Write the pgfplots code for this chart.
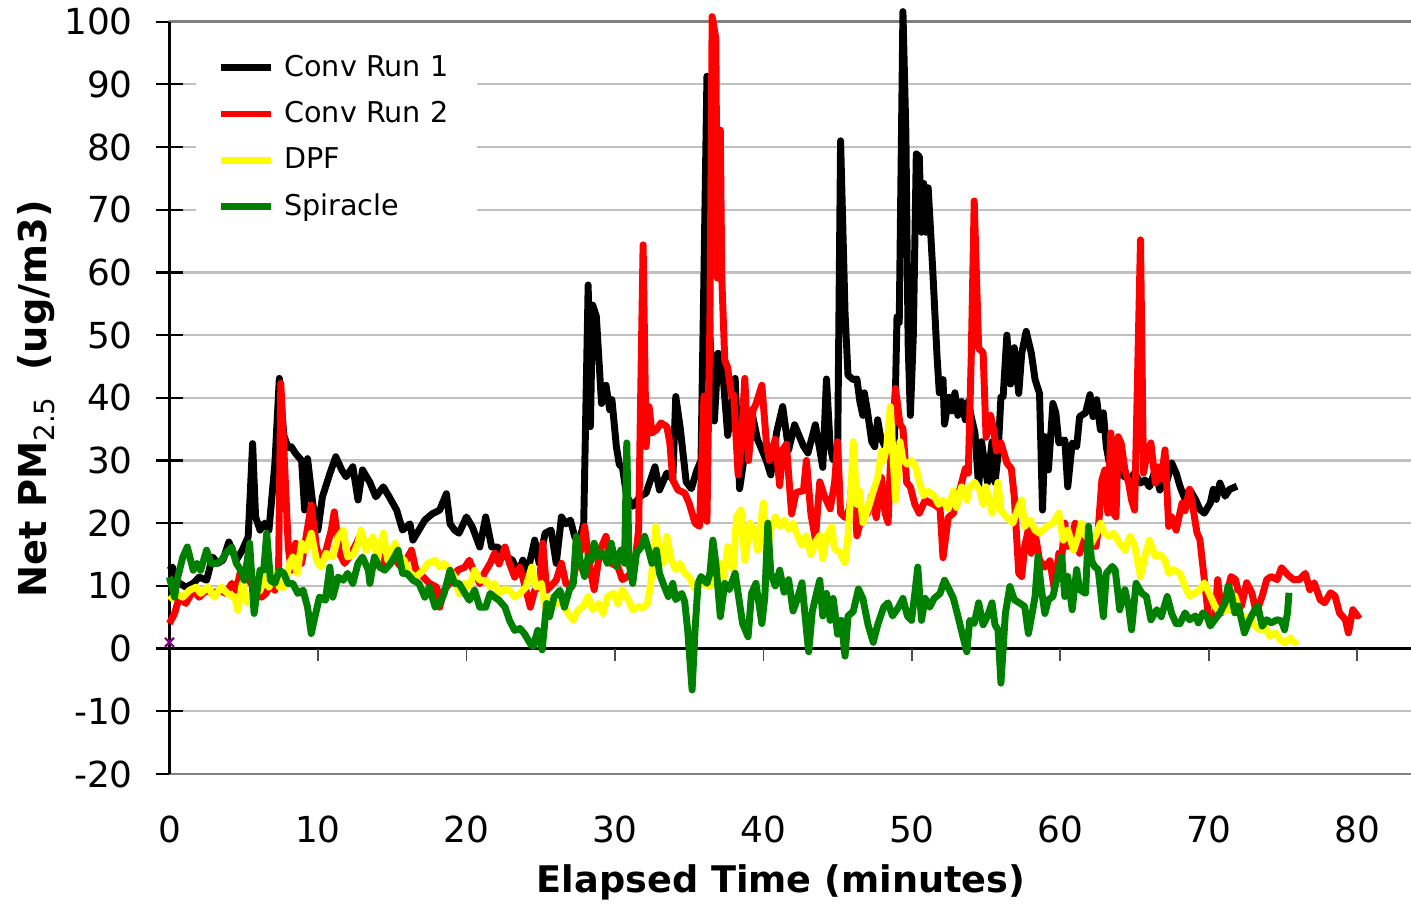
\documentclass[border=0pt]{standalone}
\usepackage{fontspec}
\setmainfont{DejaVu Sans}
\usepackage{pgfplots}
\usepackage{pgfplotstable}
\pgfplotsset{compat=1.18}

\definecolor{cred}{RGB}{255,0,0}
\definecolor{cyellow}{RGB}{255,255,0}
\definecolor{cgreen}{RGB}{0,128,0}
\definecolor{cpurple}{RGB}{128,0,128}
\definecolor{cgrid}{RGB}{192,192,192}
\definecolor{cborder}{RGB}{128,128,128}

% Conv Run 1
\pgfplotstableread{
t v
0.0 12.5
0.2 13
0.5 10.5
0.7 10.4
1.1 9.8
1.6 10.4
2.0 11.4
2.5 10.9
2.9 14.6
3.25 13.6
3.6 14.1
4.0 17
4.5 14.1
4.9 15.7
5.3 17.8
5.6 32.7
5.8 21
6.1 18.9
6.4 20
6.7 18.9
7.1 29.5
7.4 43.1
7.7 34
8.0 32
8.2 32.2
8.5 31.1
8.9 30
9.1 22.1
9.3 30.3
9.65 23.1
10.0 18.9
10.3 24.2
10.8 27.9
11.2 30.6
11.6 28.5
11.9 27.4
12.35 29
12.7 23.7
13.0 28.5
13.5 26.5
13.9 24.2
14.4 25.8
14.8 24.2
15.3 22.1
15.7 18.9
16.2 19.9
16.4 17.3
16.8 18.9
17.2 20.5
17.7 21.5
18.2 22.1
18.65 24.7
18.9 19.9
19.2 18.9
19.5 18.4
20.0 21
20.4 19.4
20.9 16.2
21.3 21
21.7 16.2
22.1 16.2
22.7 14.6
23.1 14.1
23.5 12
23.8 14.1
24.1 12
24.6 17.3
24.9 13.6
25.3 18.4
25.7 18.9
26.05 13.6
26.4 21
26.7 19.9
27.0 20.5
27.3 17.8
27.6 17
27.9 20
28.2 58
28.35 35.4
28.5 54.8
28.75 53
29.1 39.1
29.4 42
29.65 38.1
29.8 39.7
30.1 32.2
30.3 29.3
30.5 29
30.8 24.3
31.2 22.7
31.7 24.3
32.1 24.8
32.7 29
33.0 25.3
33.5 28
33.9 27
34.1 40.2
34.4 35.2
34.8 26.6
35.15 25.5
35.5 28.3
35.8 30
36.0 60
36.2 91.3
36.4 50
36.7 36.3
36.95 47.1
37.3 43.1
37.6 34
38.1 43.1
38.4 25.5
38.75 31.2
39.2 38
39.6 33.4
40.2 30
40.5 27.7
40.9 34.6
41.3 38.6
41.7 31.7
42.1 35.7
42.7 32.3
43.0 31.2
43.5 35.7
43.8 31.7
44.0 28.9
44.25 43
44.5 32.2
44.7 30.1
45.0 30.5
45.2 81
45.5 53.6
45.7 43.6
46.05 42.9
46.3 43
46.5 39.4
46.7 37.2
46.8 40.8
47.0 38
47.3 33
47.5 32.2
47.7 36.5
47.9 33.7
48.2 32.2
48.4 32
48.6 33.7
48.8 30.1
49.0 52.9
49.15 52
49.4 101.6
49.6 82
49.75 48.6
49.9 37.2
50.1 50
50.3 78.9
50.5 78.5
50.65 66.4
50.8 74.2
50.95 66.4
51.1 73.5
51.4 60.7
51.7 46.5
51.85 40.8
52.1 42.9
52.2 35.8
52.5 40.1
52.7 37.9
52.9 40.8
53.1 37.2
53.35 39.4
53.6 36.5
53.8 39.4
54.0 37
54.25 34.4
54.5 25.8
54.7 33
54.9 29.4
55.1 26.5
55.4 33
55.6 26.5
55.8 30.8
56.0 40.1
56.15 40.2
56.4 50
56.65 42.2
56.9 48
57.2 40.7
57.4 47.1
57.7 50.6
58.05 47.1
58.3 42.9
58.6 40.7
58.8 22.1
58.96 33.8
59.2 28.5
59.5 39.1
59.7 37.6
59.9 32.8
60.3 33.3
60.5 25.8
60.8 32.8
61.1 32.2
61.3 37
61.7 37.6
62.0 40.5
62.2 37
62.45 39.7
62.7 34.9
62.9 37.6
63.1 32.2
63.3 29.6
63.6 29
64.0 28
64.35 27.4
64.7 27
65.0 28
65.4 26.4
65.7 26.9
66.0 25.8
66.4 28.5
66.7 25.3
67.2 26.9
67.5 29.6
67.8 28
68.06 25.9
68.4 23.8
68.7 25.4
69.1 23.8
69.4 22.2
69.7 21.6
70.1 23.2
70.3 25.4
70.5 23.8
70.75 26.4
71.1 24.3
71.4 25.4
71.9 25.9
}\convone

% Conv Run 2
\pgfplotstableread{
t v
0.0 4
0.34 5.6
0.67 8.2
1.1 7.2
1.6 9.3
2.0 8.2
2.5 9.3
2.9 8.8
3.4 9.3
3.8 8.8
4.2 10.4
4.5 9.3
4.8 12.5
5.2 11.4
5.5 10.4
5.8 9.3
6.2 8.2
6.5 8.8
6.85 10.4
7.1 9.3
7.35 13
7.5 42.3
7.75 29.5
8.0 16.2
8.2 12.5
8.5 16.8
8.9 13.6
9.2 17.8
9.55 22.9
9.9 16.2
10.2 13.6
10.55 15.7
10.9 18.9
11.1 21.8
11.45 15.2
11.8 13.6
12.1 14.6
12.6 16.8
12.9 18.4
13.25 16.2
13.7 16.8
13.9 16.2
14.5 13.6
15.05 14.6
15.6 13
15.95 14.1
16.3 15.7
16.6 12.5
17.1 11.4
17.5 10.4
18.0 9.8
18.2 6.6
18.5 9.3
19.0 10.9
19.4 12.5
19.9 13
20.2 14.1
20.55 12
20.9 10.4
21.2 12
21.6 13.6
21.9 15.2
22.2 13.5
22.6 16.2
22.9 13.6
23.25 11.4
23.6 13
23.9 10.4
24.3 6.6
24.6 9.3
24.9 10
25.15 16.8
25.4 9.3
25.7 10
26.05 10.9
26.4 13.6
26.7 10.4
27.1 9.8
27.4 13.6
27.7 15.7
27.96 19.5
28.3 13.1
28.6 9.4
29.0 15.7
29.4 17.9
29.75 13.6
30.2 13.1
30.5 11
30.85 11.5
31.3 12.6
31.6 19
31.7 34.9
31.9 64.4
32.1 32.2
32.3 38.6
32.5 34.4
32.8 34.9
33.1 36
33.5 35.4
33.7 32.8
33.9 26.9
34.25 25.3
34.7 24.8
35.0 23.2
35.4 20
35.7 19.5
36.0 40.3
36.2 20.3
36.4 52.3
36.55 100.8
36.8 97.3
36.9 59.1
37.1 82.7
37.2 59.1
37.4 46
37.6 44.8
37.85 40.3
38.0 40.5
38.3 27.7
38.5 32.3
38.75 43.1
39.0 30
39.3 38
39.5 39
39.9 42
40.2 32.9
40.4 30
40.8 33.4
41.1 26
41.3 31.7
41.55 32.6
41.9 21.5
42.2 24.9
42.7 25.2
42.9 30
43.2 21.5
43.5 17.5
43.8 26.6
44.1 24.4
44.5 22.3
44.8 26.5
45.0 33
45.2 21.6
45.5 20.9
45.8 22.3
46.05 28.7
46.3 18
46.6 20.9
47.0 21.5
47.3 24.4
47.6 20.9
47.95 27.3
48.2 21.6
48.4 20.1
48.6 32.2
48.9 41.5
49.2 35.8
49.4 35.1
49.65 26.5
49.9 25.8
50.2 23
50.5 21.6
50.9 23.7
51.2 23.3
51.5 23
51.9 22.3
52.1 14.5
52.45 20.9
52.8 21.6
53.2 25.1
53.6 28.7
53.8 28
54.0 46.5
54.2 71.4
54.5 47.9
54.8 47.2
55.0 33.7
55.3 37.2
55.5 35
55.7 31.5
56.0 32.8
56.4 29.6
56.7 28.7
56.9 24.2
57.2 12
57.4 11.5
57.6 16.3
57.85 19
58.05 15.2
58.3 18.4
58.6 14.1
58.96 13
59.3 14
59.6 9.4
59.9 15.2
60.1 14.5
60.3 20
60.5 16.3
60.8 17.8
61.0 20
61.3 15.2
61.7 18.4
62.0 17.3
62.4 16.3
62.55 18.9
62.8 26.9
63.0 28.5
63.2 21.6
63.4 34.4
63.6 21.5
63.75 21
63.9 33.8
64.1 32.7
64.35 28.5
64.6 26.4
64.8 23.7
65.0 22.1
65.1 32.2
65.4 65.2
65.6 28
65.85 31.1
66.1 32.8
66.4 26.4
66.6 29
66.8 27
67.05 31.7
67.3 19.5
67.5 21
67.8 18.9
68.2 23.2
68.4 22
68.7 25.4
68.9 23
69.2 18.5
69.4 17.4
69.7 11
70.0 4.6
70.4 4.6
70.6 11
70.85 5.7
71.1 7.5
71.5 11.5
71.8 11
72.2 6.8
72.55 10.5
72.9 8.9
73.2 5.7
73.6 8.4
73.9 11
74.2 11.5
74.6 11
74.9 12.9
75.3 11.8
75.7 11
76.1 11
76.5 12
76.8 9.4
77.1 10.5
77.5 7.8
77.8 7.3
78.2 8.9
78.5 8.4
78.8 5.7
79.2 4.6
79.4 2.5
79.7 6.2
80.0 5.2
80.2 5.5
}\convtwo

% DPF
\pgfplotstableread{
t v
0.0 7.7
0.45 8.8
0.9 8.2
1.35 9.3
1.8 9.8
2.1 8.8
2.6 9.8
3.0 8.2
3.5 9.8
3.9 8.8
4.4 8.2
4.6 6.1
4.9 10.4
5.3 7.2
5.7 8.5
6.1 9.3
6.4 11.4
6.7 9.8
7.1 12
7.4 9.8
7.7 9.8
8.1 13.6
8.3 14.6
8.6 12
8.9 16.8
9.2 15.7
9.55 18.4
9.9 14.1
10.2 13
10.55 15.2
11.0 14.6
11.35 17.8
11.7 18.9
12.0 14.6
12.4 15
12.7 16.8
12.9 18.9
13.25 15.7
13.5 16.8
13.7 17.8
14.0 14.1
14.4 18.4
14.7 14.1
15.2 16.8
15.5 14.6
15.8 14.1
16.2 12
16.6 11.4
17.1 12.5
17.4 13.6
17.9 14.1
18.2 13
18.5 13.6
18.9 12.5
19.2 11.4
19.5 8.8
19.9 10.4
20.2 9.8
20.55 12.5
20.9 10.9
21.3 10.9
21.6 9.8
21.9 10.4
22.2 8.8
22.6 9.5
22.9 9.3
23.25 8.2
23.6 8.8
24.0 9.8
24.4 13
24.7 9.8
25.05 10.4
25.3 6.6
25.7 8.2
26.05 7.2
26.4 7.5
26.85 5.6
27.2 4.5
27.5 6.1
27.85 6.7
28.2 8.3
28.5 6.2
28.9 7.2
29.2 5.6
29.5 8.3
29.9 8.8
30.2 7.2
30.5 9.4
30.9 7.8
31.2 6.2
31.6 6.7
31.9 6.5
32.2 7.2
32.45 11
32.75 19.5
32.97 15.7
33.25 13.6
33.5 17.9
33.8 14.1
34.1 12.6
34.4 13.6
34.7 12
35.0 11.5
35.4 9.4
35.7 10.4
36.0 10.4
36.4 9.9
36.7 12.6
37.1 13.6
37.3 10.4
37.6 16.3
37.96 12.6
38.2 21.1
38.5 22.1
38.75 14.1
39.1 20
39.4 18.9
39.6 15.7
40.0 23.2
40.2 14.7
40.5 19
40.8 21
41.1 19.5
41.4 20.5
41.7 19
42.0 20
42.3 18
42.6 16.5
42.9 18
43.2 15
43.5 17
43.8 18
44.0 14.4
44.25 18
44.6 19.4
44.8 15.9
45.1 15.5
45.5 13.7
45.7 18
45.9 25.1
46.05 33
46.3 23
46.5 25.1
46.7 20.1
47.05 22.3
47.4 25.1
47.7 27.3
47.95 31.5
48.1 30.1
48.3 32
48.55 38.6
48.7 32.2
48.9 23.7
49.2 33
49.4 30.1
49.7 29.4
50.0 30
50.3 28.7
50.5 26.5
50.8 24.4
51.1 25.1
51.5 24.4
51.8 23
52.1 23.7
52.45 22.3
52.8 25.1
53.0 22.5
53.35 25.8
53.7 23.7
53.9 25.8
54.25 26.5
54.6 25.1
54.8 23
55.0 25.8
55.4 21.6
55.6 23
55.8 26.5
56.0 22
56.4 20.9
56.8 20
57.2 22.7
57.4 23.7
57.6 19.5
57.96 20.5
58.3 18.9
58.6 18.4
59.1 19.5
59.5 20
59.9 21.6
60.2 17.3
60.5 18.9
60.9 15.7
61.2 17.9
61.4 20
61.7 18
62.1 16.8
62.45 18.4
62.7 20
63.0 18.4
63.3 17.9
63.6 18.4
64.0 16.8
64.35 15.7
64.7 17.9
65.0 16.5
65.4 11.5
65.7 14.7
66.0 17.3
66.4 14.7
66.7 15
67.05 14.1
67.3 12
67.6 12.6
68.06 12
68.4 9.9
68.7 8.4
69.1 8.9
69.4 9.4
69.7 10.5
70.1 8.4
70.4 6.8
70.75 5.7
71.1 6.2
71.4 6.2
71.75 8.4
72.1 5.7
72.4 4.6
72.75 5.2
73.1 3.6
73.45 3
73.8 3.3
74.1 2
74.5 2.5
74.8 1.4
75.1 0.9
75.5 1.7
75.8 0.9
75.96 1.4
}\dpf

% Spiracle
\pgfplotstableread{
t v
0.0 11.4
0.34 8.2
0.56 11.4
0.9 14.6
1.2 16.2
1.6 12.5
1.85 13.6
2.1 12.5
2.5 15.7
2.8 13.6
3.2 13.6
3.5 14.1
3.8 15.2
4.2 16.2
4.5 13.6
4.8 12.5
5.05 10.9
5.4 16.8
5.7 5.6
6.1 12.5
6.35 12.5
6.55 18.4
6.8 10.9
7.1 10.4
7.4 12.5
7.7 12
7.97 10.4
8.3 10.4
8.65 8.8
9.0 9.3
9.3 6.6
9.55 2.4
9.8 5.1
10.1 8.2
10.5 7.7
10.8 13
11.0 8.2
11.35 11.4
11.7 10.9
12.0 12
12.35 10.4
12.7 13.6
13.0 14.6
13.4 12.5
13.5 10.4
13.8 14.6
14.15 13
14.5 12.5
14.9 13.6
15.4 15.7
15.7 12
16.0 12
16.4 10.9
16.8 10.4
17.2 8.2
17.5 9.8
17.9 6.6
18.2 7.2
18.5 8.8
18.9 12.5
19.2 10.4
19.5 10.4
19.9 8.8
20.2 7.7
20.55 9.3
20.9 6.6
21.3 6.6
21.6 8.8
21.9 8.2
22.2 7.7
22.6 6.6
22.9 4.5
23.25 2.9
23.6 3.2
23.9 2.4
24.3 0.8
24.5 0.3
24.8 2.9
25.1 -0.2
25.4 7.2
25.6 5.1
25.9 8.2
26.3 9.3
26.6 6.6
26.95 9.5
27.2 10.4
27.4 17.9
27.7 13.6
27.96 11.5
28.2 14.7
28.4 14
28.6 16.8
28.9 14.7
29.2 15.2
29.5 13.6
29.75 16.8
30.1 13.1
30.4 15.7
30.65 13.6
30.8 32.8
30.95 13.6
31.2 10.4
31.45 15.2
31.8 16.3
32.0 17.9
32.2 16.3
32.5 13.6
32.8 15.7
33.0 12
33.25 10.4
33.6 8.3
33.9 10.4
34.1 7.8
34.5 8.8
34.7 7.5
34.9 3
35.1 -3.4
35.2 -6.6
35.4 3
35.6 10.4
35.8 11.5
36.2 10.4
36.4 12
36.6 17.3
36.8 13.6
37.1 5.1
37.4 10.4
37.7 9.4
38.1 12
38.4 7.2
38.6 4
38.97 1.9
39.2 8.8
39.5 10.4
39.9 4
40.1 8.3
40.3 20
40.5 12
40.8 10
41.1 12.5
41.4 9
41.7 11
42.0 6
42.3 8
42.6 10.5
42.9 3
43.05 -0.5
43.3 6
43.6 9
43.8 10.9
44.0 5.2
44.25 8.8
44.5 4.5
44.7 8
45.0 2.3
45.25 4.5
45.5 -1.2
45.7 5.2
46.05 5.9
46.4 9.5
46.7 8
47.05 3.8
47.4 1
47.7 3.8
48.1 6.6
48.4 7.3
48.7 5.2
49.1 6.6
49.4 8
49.7 5.2
49.98 4.5
50.2 8.8
50.4 13
50.65 4.5
50.9 8
51.2 6.6
51.5 8
51.9 8.8
52.2 10.9
52.5 9.5
52.8 8
53.1 5.2
53.4 2.3
53.7 -0.5
53.9 4.5
54.2 4
54.5 7.3
54.8 3.8
55.1 5.2
55.4 7.3
55.6 3.8
55.8 3
56.0 -5.5
56.3 5.6
56.6 9.9
56.9 7.8
57.3 7.2
57.6 6.7
57.85 2.4
58.1 5.6
58.3 8.3
58.5 14.7
58.7 9.9
58.96 5.6
59.2 7.8
59.5 8.3
59.9 12.6
60.1 14.7
60.3 8.3
60.5 11.5
60.8 6.2
61.1 12.6
61.3 9.4
61.7 8.8
61.9 19.5
62.1 14.1
62.3 13.1
62.55 12.6
62.9 5.1
63.1 12
63.5 13.1
63.7 12.5
64.0 6.2
64.35 9.4
64.6 6.7
64.8 3
65.1 10.4
65.5 8.8
65.8 8.3
66.1 4.6
66.5 6.2
66.8 5.1
67.2 8.3
67.5 5.6
67.8 4
68.06 4
68.4 5.7
68.7 4.6
69.1 5.2
69.3 4.1
69.6 5.7
69.9 5
70.1 3.6
70.4 4.6
70.75 5.7
71.1 7.3
71.3 10
71.5 8.9
71.75 5.7
72.0 6.8
72.2 4.6
72.4 2.5
72.75 4.6
73.1 6.2
73.3 6.8
73.6 3.6
73.9 4.6
74.2 4.1
74.6 4.6
74.9 4.4
75.1 3
75.3 5.7
75.4 8.9
}\spiracle

\begin{document}
\begin{tikzpicture}
\begin{axis}[
  scale only axis,
  width=446.9pt, height=270.8pt,
  xmin=0, xmax=83.62, ymin=-20, ymax=100,
  clip=false,
  axis line style={draw=none},
  tick pos=left,
  tick align=center,
  xtick={0,10,...,80},
  xticklabels={0,10,20,30,40,50,60,70,80},
  ytick={-20,-10,...,100},
  yticklabels={-20,-10,0,10,20,30,40,50,60,70,80,90,100},
  xtick style={draw=none},
  ytick style={black, line width=0.8pt},
  major tick length=9.4pt,
  ymajorgrids,
  major grid style={cgrid, line width=0.8pt},
  xticklabel style={anchor=base, inner sep=0pt, yshift=-20.1pt,
    font=\fontsize{12.9}{14}\selectfont},
  yticklabel style={anchor=east, inner sep=0pt, xshift=-8.3pt,
    font=\fontsize{12.9}{14}\selectfont},
  legend style={draw=none, fill=none, at={(rel axis cs:0.0383,0.9705)},
    anchor=north west, inner sep=0pt, row sep=0pt,
    font=\fontsize{10.3}{12}\selectfont,
    nodes={inner sep=0pt, minimum height=16.7pt}},
  legend cell align=left,
  legend image code/.code={
    \draw[#1, line width=2.4pt] (0pt,0pt) -- (18pt,0pt);
    \path (21.6pt,0pt);},
]
% plot area frame, axes and legend background
\draw[cborder, line width=1pt] (axis cs:0,100) -- (axis cs:83.62,100);
\draw[cborder, line width=1pt] (axis cs:0,-20) -- (axis cs:83.62,-20);
\fill[white] (axis cs:1.82,66) rectangle (axis cs:20.69,97.9);
\draw[black, line width=0.8pt] (axis cs:0,0) -- (axis cs:83.62,0);
\draw[black, line width=0.9pt] (axis cs:0,-20) -- (axis cs:0,100);
\pgfplotsinvokeforeach{10,20,30,40,50,60,70,80}{
  \draw[black!70, line width=0.6pt] (axis cs:#1,0) -- ([yshift=-4.5pt]axis cs:#1,0);
}

\addplot[black, line width=2.5pt, line join=round, mark=none] table[x=t, y=v] {\convone};
\addplot[cred, line width=2.5pt, line join=round, mark=none] table[x=t, y=v] {\convtwo};
\addplot[cyellow, line width=2.5pt, line join=round, mark=none] table[x=t, y=v] {\dpf};
\addplot[cgreen, line width=2.5pt, line join=round, mark=none] table[x=t, y=v] {\spiracle};
\addplot[forget plot, only marks, mark=x, mark size=2.3pt, cpurple, line width=0.8pt]
  coordinates {(0,1)};
\legend{Conv Run 1, Conv Run 2, DPF, Spiracle}

\node[anchor=base, font=\fontsize{13.2}{15}\selectfont\bfseries]
  at (rel axis cs:0.4926,-0.1582) {Elapsed Time (minutes)};
\node[anchor=base, rotate=90, font=\fontsize{13.8}{15}\selectfont\bfseries]
  at (rel axis cs:-0.0987,0.4985)
  {Net PM\raisebox{-2.8pt}{\fontsize{10}{10}\selectfont\mdseries 2.5}\ \ (ug/m3)};

\coordinate (bbll) at (rel axis cs:-0.1365,-0.1834);
\coordinate (bbur) at (rel axis cs:1,1.0288);
\end{axis}
\pgfresetboundingbox
\path (bbll) rectangle (bbur);
\end{tikzpicture}
\end{document}
